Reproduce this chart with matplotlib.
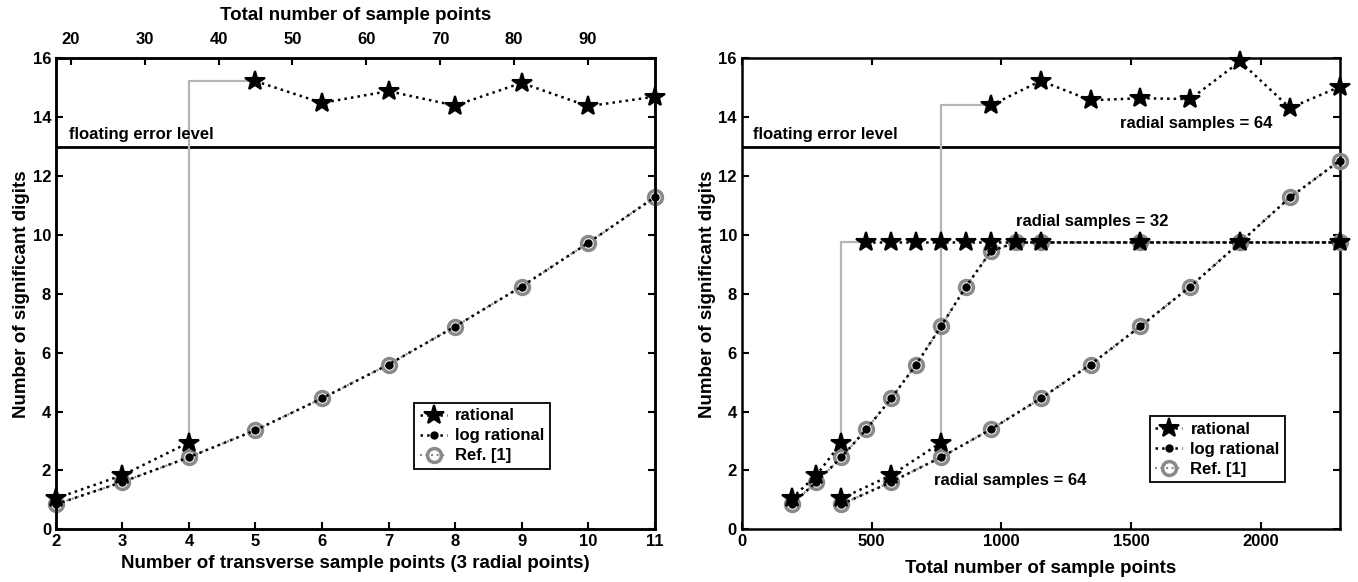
import matplotlib
matplotlib.use('Agg')
import matplotlib.pyplot as plt
from matplotlib.lines import Line2D

plt.rcParams['font.family'] = ['Liberation Sans', 'DejaVu Sans']
plt.rcParams['font.weight'] = 'bold'
plt.rcParams['axes.labelweight'] = 'bold'

# left panel: 3 radial points
n_trans = [2, 3, 4, 5, 6, 7, 8, 9, 10, 11]
left_rational = [1.05, 1.84, 2.95, 15.23, 14.49, 14.89, 14.40, 15.17, 14.38, 14.70]
left_lograt = [0.85, 1.61, 2.45, 3.37, 4.45, 5.60, 6.89, 8.25, 9.73, 11.28]
left_ref = [0.85, 1.61, 2.45, 3.37, 4.45, 5.60, 6.89, 8.25, 9.73, 11.28]
top_ticks = [20, 30, 40, 50, 60, 70, 80, 90]

# right panel: radial samples = 32
r32_total = [192, 288, 384, 480, 576, 672, 768, 864, 960, 1056, 1152, 1536, 1920, 2304]
r32_rational = [1.05, 1.84, 2.95, 9.75, 9.75, 9.75, 9.75, 9.75, 9.75, 9.75, 9.75, 9.75, 9.75, 9.75]
r32_lograt = [0.85, 1.61, 2.45, 3.40, 4.45, 5.60, 6.90, 8.25, 9.45, 9.75, 9.75, 9.75, 9.75, 9.75]
r32_ref = [0.85, 1.61, 2.45, 3.40, 4.45, 5.60, 6.90, 8.25, 9.45, 9.75, 9.75, 9.75, 9.75, 9.75]

# right panel: radial samples = 64
r64_total = [384, 576, 768, 960, 1152, 1344, 1536, 1728, 1920, 2112, 2304]
r64_rational = [1.05, 1.84, 2.95, 14.41, 15.24, 14.58, 14.65, 14.62, 15.90, 14.32, 15.04]
r64_lograt = [0.85, 1.61, 2.45, 3.40, 4.45, 5.60, 6.90, 8.25, 9.75, 11.28, 12.53]
r64_ref = [0.85, 1.61, 2.45, 3.40, 4.45, 5.60, 6.90, 8.25, 9.75, 11.28, 12.53]

FLOAT_LEVEL = 13
GRAY = '#8a8a8a'
STEP_GRAY = '#b5b5b5'
FS_TICK = 12
FS_LABEL = 13.5
FS_TEXT = 12

STAR = dict(marker='*', ms=15, mfc='black', mec='black', mew=1.5)
DOT = dict(marker='o', ms=5, mfc='black', mec='black')
RING = dict(marker='o', ms=10, mfc='none', mec=GRAY, mew=2.5)


def jump_index(rat):
    for i in range(1, len(rat)):
        if rat[i] - rat[i - 1] > 3:
            return i
    return len(rat)


def draw_series(ax, x, rat, lograt, ref):
    ax.plot(x, ref, ':', color=GRAY, lw=1.5, clip_on=False, zorder=3, **RING)
    ax.plot(x, lograt, ':', color='black', lw=1.8, clip_on=False, zorder=4, **DOT)
    j = jump_index(rat)
    # the dotted rational curve is broken at the jump (gray step shows it)
    ax.plot(x[:j], rat[:j], ':', color='black', lw=1.8, clip_on=False, zorder=5, **STAR)
    ax.plot(x[j:], rat[j:], ':', color='black', lw=1.8, clip_on=False, zorder=5, **STAR)
    if j < len(rat):
        ax.plot([x[j - 1], x[j - 1], x[j]], [rat[j - 1], rat[j], rat[j]],
                color=STEP_GRAY, lw=1.6, zorder=2)


def style_axes(ax):
    for sp in ax.spines.values():
        sp.set_linewidth(1.8)
    ax.tick_params(direction='in', length=5, width=1.5, labelsize=FS_TICK,
                   top=True, right=True)
    ax.set_ylim(0, 16)
    ax.set_yticks(range(0, 17, 2))
    for lab in ax.get_xticklabels() + ax.get_yticklabels():
        lab.set_fontweight('bold')


def add_legend(ax, bbox):
    handles = [
        Line2D([], [], ls=':', color='black', lw=1.8, **STAR),
        Line2D([], [], ls=':', color='black', lw=1.8, **DOT),
        Line2D([], [], ls=':', color=GRAY, lw=1.5, **RING),
    ]
    leg = ax.legend(handles, ['rational', 'log rational', 'Ref. [1]'],
                    loc='lower left', bbox_to_anchor=bbox, fancybox=False,
                    framealpha=1, edgecolor='black', handlelength=1.6,
                    handletextpad=0.5, borderpad=0.35, labelspacing=0.3,
                    prop={'size': FS_TEXT, 'weight': 'bold'})
    leg.get_frame().set_linewidth(1.3)


fig = plt.figure(figsize=(13.58, 5.82), dpi=100)
ax1 = fig.add_axes([0.0412, 0.0905, 0.4408, 0.809])
ax2 = fig.add_axes([0.5462, 0.0905, 0.4404, 0.809])

# left panel
ax1.axhline(FLOAT_LEVEL, color='black', lw=2, zorder=2)
draw_series(ax1, n_trans, left_rational, left_lograt, left_ref)
ax1.set_xlim(2, 11)
ax1.set_xticks(n_trans)
style_axes(ax1)
ax1.tick_params(top=False)
ax1.text(2.2, 13.15, 'floating error level', fontsize=FS_TEXT, weight='bold', va='bottom')
ax1.set_xlabel('Number of transverse sample points (3 radial points)', fontsize=FS_LABEL, labelpad=4)
ax1.set_ylabel('Number of significant digits', fontsize=FS_LABEL, labelpad=2)
add_legend(ax1, (0.585, 0.11))

top = ax1.twiny()
top.set_xlim(9 * 2, 9 * 11)
top.set_xticks(top_ticks)
top.tick_params(direction='in', length=5, width=1.5, labelsize=FS_TICK, pad=8)
for lab in top.get_xticklabels():
    lab.set_fontweight('bold')
top.set_xlabel('Total number of sample points', fontsize=FS_LABEL, labelpad=9)
for sp in top.spines.values():
    sp.set_linewidth(1.8)

# right panel
ax2.axhline(FLOAT_LEVEL, color='black', lw=2, zorder=2)
draw_series(ax2, r64_total, r64_rational, r64_lograt, r64_ref)
draw_series(ax2, r32_total, r32_rational, r32_lograt, r32_ref)
ax2.set_xlim(0, 2304)
ax2.set_xticks([0, 500, 1000, 1500, 2000])
style_axes(ax2)
ax2.text(42, 13.15, 'floating error level', fontsize=FS_TEXT, weight='bold', va='bottom')
ax2.text(1456, 13.8, 'radial samples = 64', fontsize=FS_TEXT, weight='bold', va='center')
ax2.text(1057, 10.45, 'radial samples = 32', fontsize=FS_TEXT, weight='bold', va='center')
ax2.text(739, 1.66, 'radial samples = 64', fontsize=FS_TEXT, weight='bold', va='center')
ax2.set_xlabel('Total number of sample points', fontsize=FS_LABEL, labelpad=8)
ax2.set_ylabel('Number of significant digits', fontsize=FS_LABEL, labelpad=2)
add_legend(ax2, (0.668, 0.082))

fig.savefig('out.png', dpi=100)
